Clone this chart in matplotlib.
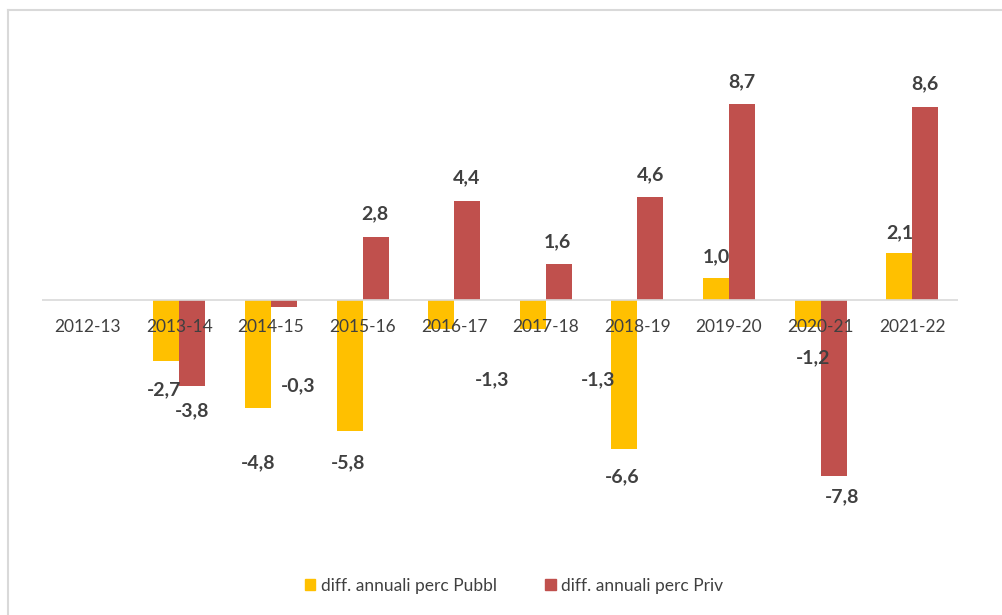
import numpy as np
import matplotlib.pyplot as plt
from matplotlib.lines import Line2D
from matplotlib.patches import Patch

plt.rcParams['font.family'] = ['Lato', 'DejaVu Sans']

years = ['2012-13', '2013-14', '2014-15', '2015-16', '2016-17',
         '2017-18', '2018-19', '2019-20', '2020-21', '2021-22']
pubbl = [np.nan, -2.7, -4.8, -5.8, -1.3, -1.3, -6.6, 1.0, -1.2, 2.1]
priv = [np.nan, -3.8, -0.3, 2.8, 4.4, 1.6, 4.6, 8.7, -7.8, 8.6]

# label offsets from the bar end, in pixels (dx, dy up)
off_pubbl = [None, (-2, -29), (0, -55), (-2, -32), (51, -51), (65, -51),
             (-2, -28), (0, 21), (5, -31), (1, 20)]
off_priv = [None, (0, -25), (14, -79), (-1, 23), (-1, 23), (-1, 22),
            (0, 22), (0, 22), (8, -21), (0, 23)]

c_pubbl = '#FFC000'
c_priv = '#C0504D'
txt = '#404040'

fig = plt.figure(figsize=(10.03, 6.15), dpi=100)
ax = fig.add_axes([42/1003, 1 - 525/615, 916/1003, 450/615])

x = np.arange(len(years))
w = 0.284
ax.bar(x - w/2, pubbl, w, color=c_pubbl, zorder=1)
ax.bar(x + w/2, priv, w, color=c_priv, zorder=1)

px2pt = 0.72
for vals, offs, sign in [(pubbl, off_pubbl, -1), (priv, off_priv, 1)]:
    for i, v in enumerate(vals):
        if np.isnan(v):
            continue
        dx, dy = offs[i]
        ax.annotate(f'{v:.1f}'.replace('.', ','), (x[i] + sign*w/2, v),
                    xytext=(dx*px2pt, dy*px2pt), textcoords='offset points',
                    ha='center', va='center', fontsize=14, fontweight='bold',
                    color=txt)

ax.set_xlim(-0.5, len(years) - 0.5)
ax.set_ylim(-10, 10)
ax.axhline(0, color='#D9D9D9', lw=1.2, zorder=2)
for s in ax.spines.values():
    s.set_visible(False)
ax.set_yticks([])
ax.set_xticks(x)
ax.set_xticklabels(years, fontsize=12.5, color=txt)
ax.tick_params(axis='x', length=0, pad=14)
# put the labels next to the zero line
for lab in ax.get_xticklabels():
    lab.set_y(0.5)

# chart border (top and left only visible)
fig.add_artist(Line2D([8/1003, 1], [1 - 10/615, 1 - 10/615], color='#D9D9D9', lw=1.5))
fig.add_artist(Line2D([8/1003, 8/1003], [0, 1 - 10/615], color='#D9D9D9', lw=1.5))

handles = [Patch(color=c_pubbl), Patch(color=c_priv)]
fig.legend(handles, ['diff. annuali perc Pubbl', 'diff. annuali perc Priv'],
           loc='center', bbox_to_anchor=(514/1003, 1 - 586/615), ncol=2,
           frameon=False, fontsize=12.5, labelcolor=txt, handlelength=0.6,
           handleheight=0.6, handletextpad=0.3, columnspacing=2.8)

fig.savefig('out.png', dpi=100)
